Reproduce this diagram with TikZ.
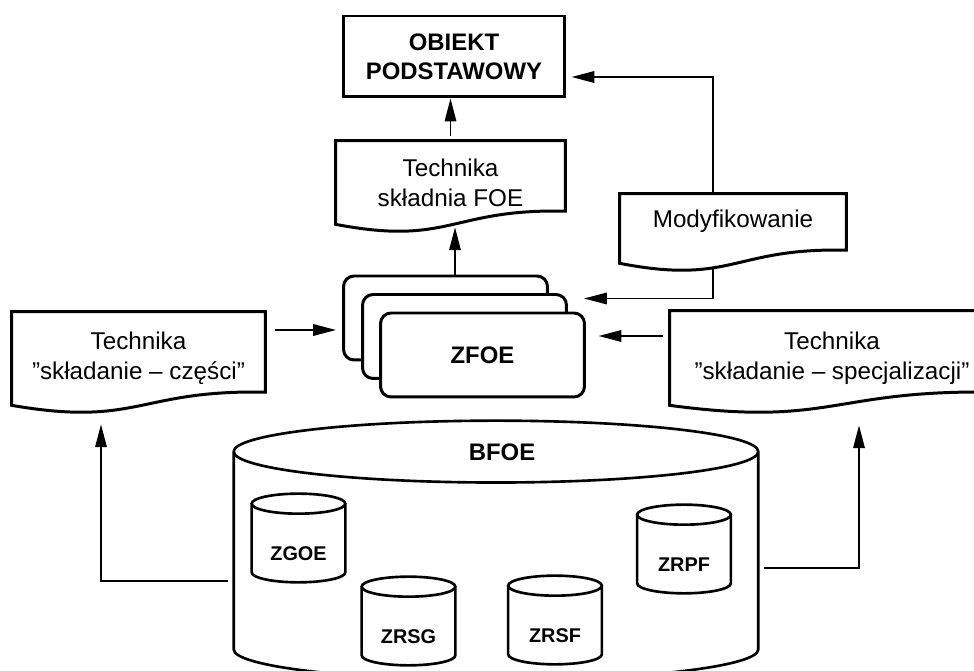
\documentclass[tikz,border=0pt]{standalone}
\usepackage{fontspec}
\setmainfont{Liberation Sans}
\usetikzlibrary{arrows.meta,calc}

% document outline with a wavy bottom edge round a node
\newcommand{\docframe}[1]{%
  \draw[frame] let \p1=(#1.south west), \p2=(#1.north east), \n1={0.5*(\x1+\x2)} in
    (\x1,\y1) -- (\x1,\y2) -- (\x2,\y2) -- (\x2,\y1+7.5pt)
    .. controls (\n1,\y1+9pt) and (\n1,\y1-12.5pt) .. (\x1,\y1) -- cycle;}
% cylinder outline round a node, #2 = radius of the caps
\newcommand{\dbframe}[2]{%
  \draw[dbline] let \p1=(#1.south west), \p2=(#1.north east), \n1={0.5*(\x2-\x1)} in
    (\x1,\y2-#2) -- (\x1,\y1+#2) arc[start angle=180, end angle=360, x radius=\n1, y radius=#2]
    -- (\x2,\y2-#2)
    (\x1+\n1,\y2-#2) ellipse[x radius=\n1, y radius=#2];}

\begin{document}
\begin{tikzpicture}[x=0.02cm,y=-0.02cm,
  txt/.style={font=\fontsize{13.8}{17}\selectfont, align=center, inner sep=0pt},
  bold/.style={font=\fontsize{13.6}{16.5}\selectfont\bfseries},
  frame/.style={line width=1.7pt},
  card/.style={draw, frame, fill=white, rounded corners=6pt, minimum width=4.08cm, minimum height=1.68cm},
  dbline/.style={line width=1.5pt},
  dbsmall/.style={minimum width=1.86cm, minimum height=1.76cm, font=\fontsize{11.3}{13}\selectfont\bfseries, text height=26pt, text depth=0pt},
  arr/.style={line width=1.1pt, -{Triangle[length=13pt,width=6.5pt]}}]
\useasboundingbox (0,0) rectangle (974,671);

% object and techniques
\node[draw, frame, bold, align=center, minimum width=4.44cm, minimum height=1.62cm] (obiekt) at (454,56.5) {OBIEKT\\PODSTAWOWY};
\node[txt, minimum width=4.58cm, minimum height=1.66cm] (foedoc) at (450.5,182.5) {Technika\\składnia FOE};
\node[txt, minimum width=4.52cm, minimum height=1.38cm, text depth=11pt] (modyf) at (733,228.5) {Modyfikowanie};
\node[txt, minimum width=5.06cm, minimum height=1.86cm] (leftdoc) at (138.5,358.5) {Technika\\”składanie – części”};
\node[txt, minimum width=6.48cm, minimum height=1.88cm] (rightdoc) at (832,358) {Technika\\”składanie – specjalizacji”};
\foreach \docname in {foedoc,modyf,leftdoc,rightdoc} {\docframe{\docname}}

% ZFOE stack
\node[card] (card1) at (445.5,318) {};
\node[card] (card2) at (464.5,336.5) {};
\node[card, bold] (zfoe) at (482.5,355) {ZFOE};

% database
\node[minimum width=10.48cm, minimum height=5.18cm] (bfoe) at (496,550.5) {};
\dbframe{bfoe}{17.6pt}
\node[bold] (bfoename) at ($(bfoe.north)+(6,32)$) {BFOE};
\node[dbsmall] (zgoe) at (298.5,538) {ZGOE};
\node[dbsmall] (zrsg) at (408.5,621) {ZRSG};
\node[dbsmall] (zrsf) at (555,620) {ZRSF};
\node[dbsmall] (zrpf) at (684,549) {ZRPF};
\foreach \dbname in {zgoe,zrsg,zrsf,zrpf} {\dbframe{\dbname}{5.7pt}}

% connectors
\draw[arr] ($(foedoc.north)+(0,-5)$) -- (foedoc.north |- obiekt.south);
\draw[arr] ($(card1.north)+(9.5,0)$) -- ($(foedoc.south)+(4.5,3)$);
\draw[arr] ($(modyf.north)+(-20,0)$) |- ($(obiekt.east)+(5,20.5)$);
\draw[arr] ($(modyf.south)+(-20,5)$) |- ($(card2.east)+(16,-38)$);
\draw[arr] ($(leftdoc.east)+(10,-28.5)$) -- ($(card1.west)+(-6,12)$);
\draw[arr] ($(rightdoc.west)+(-7,-22)$) -- ($(zfoe.east)+(12.5,-19)$);
\draw[arr] ($(bfoe.west)+(-6,30.5)$) -| ($(leftdoc.south)+(-37.5,19)$);
\draw[arr] ($(bfoe.east)+(6,17.5)$) -| ($(rightdoc.south)+(27,20)$);
\end{tikzpicture}
\end{document}
